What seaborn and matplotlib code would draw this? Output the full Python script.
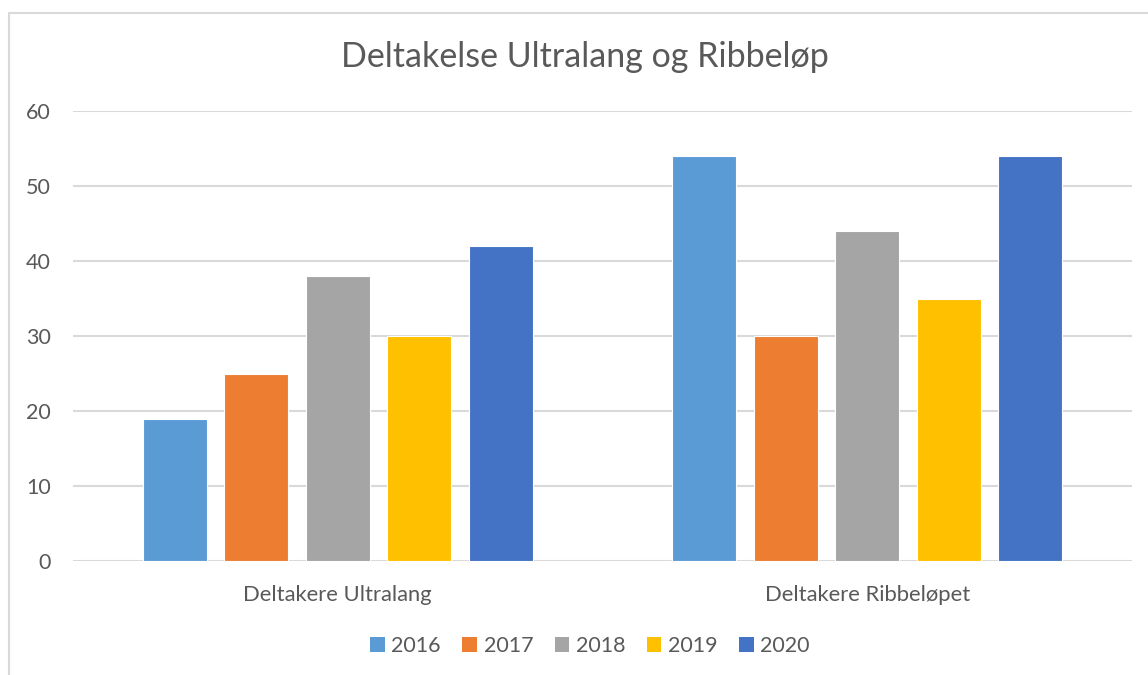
import matplotlib
matplotlib.use("Agg")
import matplotlib.pyplot as plt
import seaborn as sns
import pandas as pd
from matplotlib.lines import Line2D
from matplotlib.patches import Patch

categories = ["Deltakere Ultralang", "Deltakere Ribbeløpet"]
years = ["2016", "2017", "2018", "2019", "2020"]
values_2016 = [19, 54]
values_2017 = [25, 30]
values_2018 = [38, 44]
values_2019 = [30, 35]
values_2020 = [42, 54]
colors = ["#5B9BD5", "#ED7D31", "#A5A5A5", "#FFC000", "#4472C4"]
yticks = [0, 10, 20, 30, 40, 50, 60]

series = [values_2016, values_2017, values_2018, values_2019, values_2020]
rows = []
for y, vals in zip(years, series):
    for c, v in zip(categories, vals):
        rows.append({"Kategori": c, "År": y, "Verdi": v})
df = pd.DataFrame(rows)

sns.set_theme(style="white")
plt.rcParams["font.family"] = ["Lato", "DejaVu Sans"]

W, H = 1148, 675
fig = plt.figure(figsize=(W / 100, H / 100), dpi=100)
ax = fig.add_axes([73 / W, 1 - 561 / H, (1132 - 73) / W, (561 - 111) / H])

sns.barplot(data=df, x="Kategori", y="Verdi", hue="År", order=categories,
            hue_order=years, palette=colors, width=0.77, gap=0.215,
            saturation=1, ax=ax, legend=False, edgecolor="white", linewidth=0.8)

ax.set_xlim(-0.5, 1.5)
ax.set_ylim(0, 60)
ax.set_yticks(yticks)
ax.yaxis.grid(True, color="#D9D9D9", linewidth=1.5)
ax.set_axisbelow(True)
for s in ax.spines.values():
    s.set_visible(False)
ax.set_xlabel("")
ax.set_ylabel("")
ax.tick_params(axis="y", labelsize=15.5, colors="#595959", length=0, pad=16)
ax.tick_params(axis="x", labelsize=15.8, colors="#595959", length=0, pad=17)

fig.text(585 / W, 1 - 57 / H, "Deltakelse Ultralang og Ribbeløp", ha="center",
         va="center", fontsize=24.5, color="#595959")

handles = [Patch(facecolor=c, edgecolor="none") for c in colors]
fig.legend(handles, years, loc="center", bbox_to_anchor=(590 / W, 1 - 646 / H),
           ncol=5, frameon=False, fontsize=15.5, labelcolor="#595959",
           handlelength=0.68, handleheight=0.68, handletextpad=0.3,
           columnspacing=1.0)

# chart border (partially visible)
fig.add_artist(Line2D([8.5 / W, 1], [1 - 12.5 / H, 1 - 12.5 / H],
                      transform=fig.transFigure, color="#D9D9D9", linewidth=1.5))
fig.add_artist(Line2D([8.5 / W, 8.5 / W], [1 - 12.5 / H, 0],
                      transform=fig.transFigure, color="#D9D9D9", linewidth=1.5))

fig.savefig("out.png", dpi=100)
